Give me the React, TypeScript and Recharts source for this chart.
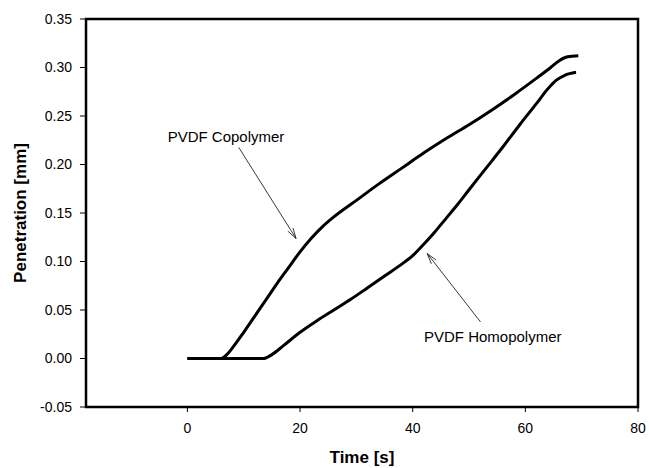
import React from "react";
import { LineChart, Line, XAxis, YAxis, ReferenceArea, ReferenceLine, ReferenceDot } from "recharts";

const copolymer = [
  { t: 0, v: 0 }, { t: 3, v: 0 }, { t: 6, v: 0 }, { t: 7, v: 0.004 },
  { t: 8, v: 0.011 }, { t: 10, v: 0.027 }, { t: 12, v: 0.044 }, { t: 14, v: 0.061 },
  { t: 16, v: 0.078 }, { t: 18, v: 0.094 }, { t: 20, v: 0.11 }, { t: 22, v: 0.124 },
  { t: 24, v: 0.136 }, { t: 26, v: 0.146 }, { t: 30, v: 0.163 }, { t: 34, v: 0.18 },
  { t: 38, v: 0.196 }, { t: 42, v: 0.212 }, { t: 46, v: 0.227 }, { t: 50, v: 0.241 },
  { t: 54, v: 0.256 }, { t: 58, v: 0.272 }, { t: 62, v: 0.289 }, { t: 64.5, v: 0.3 },
  { t: 66, v: 0.307 }, { t: 67.5, v: 0.311 }, { t: 69.4, v: 0.312 },
];

const homopolymer = [
  { t: 0, v: 0 }, { t: 7, v: 0 }, { t: 13.5, v: 0 }, { t: 15, v: 0.004 },
  { t: 17, v: 0.013 }, { t: 20, v: 0.027 }, { t: 23, v: 0.039 }, { t: 26, v: 0.05 },
  { t: 29, v: 0.061 }, { t: 32, v: 0.073 }, { t: 35, v: 0.085 }, { t: 38, v: 0.097 },
  { t: 40, v: 0.106 }, { t: 42, v: 0.118 }, { t: 44, v: 0.131 }, { t: 46, v: 0.145 },
  { t: 48, v: 0.159 }, { t: 50, v: 0.174 }, { t: 53, v: 0.196 }, { t: 56, v: 0.218 },
  { t: 59, v: 0.241 }, { t: 62, v: 0.263 }, { t: 64, v: 0.278 }, { t: 65.5, v: 0.287 },
  { t: 67, v: 0.292 }, { t: 69, v: 0.295 },
];

const xTicks = [0, 20, 40, 60, 80];
const yTicks = [-0.05, 0, 0.05, 0.1, 0.15, 0.2, 0.25, 0.3, 0.35];
const xDomain = [-18, 80];
const yDomain = [-0.05, 0.35];

const annotations = [
  { text: "PVDF Copolymer", tx: -3.5, ty: 0.2285, from: { x: 9.13, y: 0.2175 }, to: { x: 19.29, y: 0.1237 } },
  { text: "PVDF Homopolymer", tx: 42.0, ty: 0.0223, from: { x: 52.04, y: 0.0377 }, to: { x: 42.58, y: 0.1082 } },
];

const FONT = "'Liberation Sans', Arial, sans-serif";

const ArrowShape = (props: any) => {
  const { x1, y1, x2, y2 } = props;
  const ang = Math.atan2(y2 - y1, x2 - x1);
  const len = 11;
  const spread = (16 * Math.PI) / 180;
  const ax = x2 - len * Math.cos(ang - spread);
  const ay = y2 - len * Math.sin(ang - spread);
  const bx = x2 - len * Math.cos(ang + spread);
  const by = y2 - len * Math.sin(ang + spread);
  return (
    <g>
      <line x1={x1} y1={y1} x2={x2} y2={y2} stroke="#222" strokeWidth={0.9} />
      <polyline points={`${ax},${ay} ${x2},${y2} ${bx},${by}`} fill="none" stroke="#222" strokeWidth={0.9} />
    </g>
  );
};

const makeTextShape = (text: string) => (props: any) => (
  <text x={props.cx} y={props.cy} dominantBaseline="central" textAnchor="start"
    fontFamily={FONT} fontSize={15} fill="#000">{text}</text>
);

export default function App() {
  return (
    <div style={{ position: "absolute", left: 0, top: 0, background: "#fff" }}>
      <LineChart width={649} height={468} margin={{ top: 19, right: 11, bottom: 0, left: 0 }}>
        <XAxis
          dataKey="t" type="number" domain={xDomain} ticks={xTicks} allowDataOverflow
          height={61} axisLine={false} tickLine={{ stroke: "#000", strokeWidth: 1 }} tickSize={5} tickMargin={11}
          tick={{ fill: "#000", fontSize: 14, fontFamily: FONT }}
          label={{ value: "Time [s]", position: "insideBottom", offset: 5, fill: "#000", fontSize: 17, fontWeight: "bold", fontFamily: FONT }}
        />
        <YAxis
          type="number" domain={yDomain} ticks={yTicks} allowDataOverflow
          width={86} axisLine={false} tickLine={{ stroke: "#000", strokeWidth: 1 }} tickSize={6} tickMargin={8}
          tickFormatter={(v: number) => v.toFixed(2)}
          tick={{ fill: "#000", fontSize: 14, fontFamily: FONT }}
          label={{ value: "Penetration [mm]", angle: -90, position: "insideLeft", offset: 20, fill: "#000", fontSize: 17, fontWeight: "bold", fontFamily: FONT, style: { textAnchor: "middle" } }}
        />
        <ReferenceArea x1={xDomain[0]} x2={xDomain[1]} y1={yDomain[0]} y2={yDomain[1]} fill="none" stroke="#000" strokeWidth={2.5} />
        <Line data={copolymer} dataKey="v" type="monotone" stroke="#000" strokeWidth={3} dot={false} activeDot={false} isAnimationActive={false} />
        <Line data={homopolymer} dataKey="v" type="monotone" stroke="#000" strokeWidth={3} dot={false} activeDot={false} isAnimationActive={false} />
        {annotations.map((a) => (
          <ReferenceLine key={a.text + "-arrow"} segment={[a.from, a.to]} shape={ArrowShape} />
        ))}
        {annotations.map((a) => (
          <ReferenceDot key={a.text} x={a.tx} y={a.ty} r={0} shape={makeTextShape(a.text)} />
        ))}
      </LineChart>
    </div>
  );
}
